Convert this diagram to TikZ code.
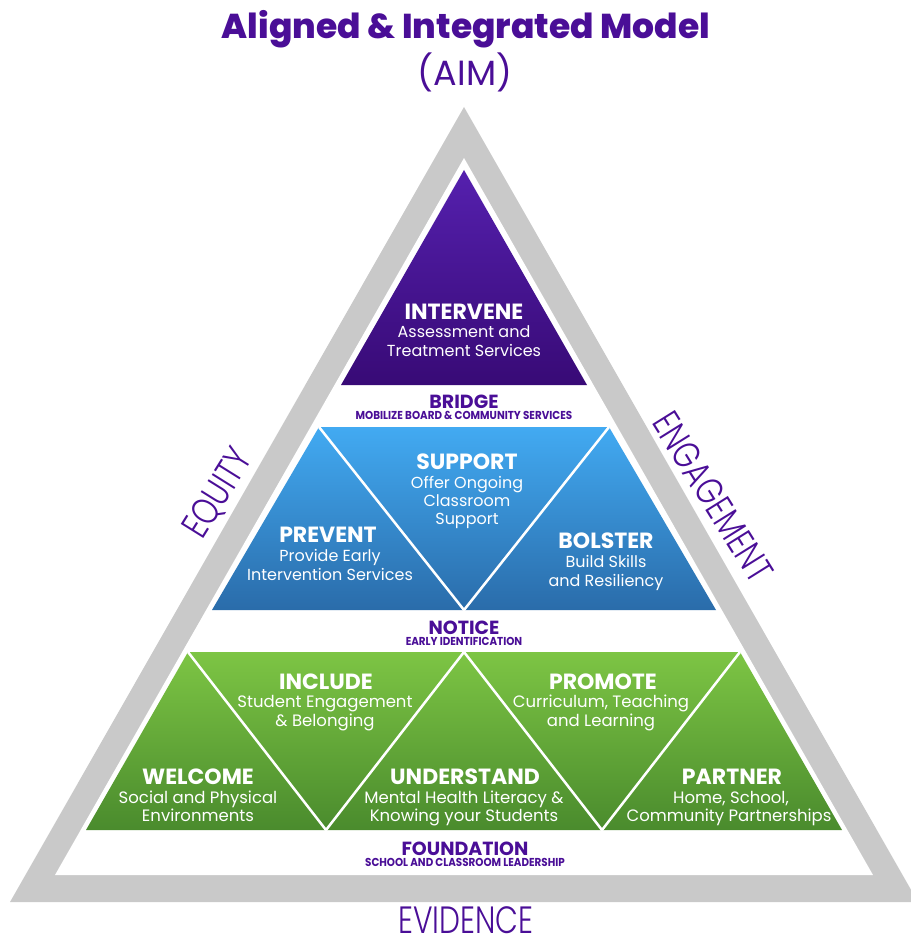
\documentclass[tikz,border=0pt]{standalone}
\usepackage{fontspec}
\setmainfont{Poppins}
\newfontfamily\condfont{Poppins}[FakeStretch=0.9]
\newfontfamily\lightfont{Poppins Light}[FakeStretch=0.78]
\newfontfamily\titlefont{Poppins ExtraBold}
\definecolor{aimpurple}{HTML}{4A0E97}
\definecolor{framegray}{HTML}{C9C9C9}
\definecolor{purtop}{HTML}{5520AE}
\definecolor{purbot}{HTML}{380A76}
\definecolor{bluetop}{HTML}{42AAF2}
\definecolor{bluebot}{HTML}{2A6CAA}
\definecolor{greentop}{HTML}{7DC544}
\definecolor{greenbot}{HTML}{4A8B2D}
\tikzset{
  lab/.style={anchor=base, text=white, inner sep=0pt, font=\bfseries\fontsize{22}{26}\selectfont},
  sub/.style={anchor=base, text=white, inner sep=0pt, font=\fontsize{16}{19}\selectfont},
  glab/.style={anchor=base, text=white, inner sep=0pt, font=\bfseries\fontsize{22}{26}\selectfont},
  gsub/.style={anchor=base, text=white, inner sep=0pt, font=\fontsize{16.5}{19}\selectfont},
  plab/.style={anchor=base, text=aimpurple, inner sep=0pt, font=\bfseries\fontsize{19}{22}\selectfont},
  psub/.style={anchor=base, text=aimpurple, inner sep=0pt, font=\condfont\bfseries\fontsize{11.5}{13}\selectfont},
  side/.style={text=aimpurple, inner sep=0pt, font=\lightfont\fontsize{38}{42}\selectfont},
  sep/.style={white, line width=2.5pt, line join=miter}
}
\begin{document}
\begin{tikzpicture}[x=1pt, y=-1pt]
\useasboundingbox (0,0) rectangle (910,941);
% frame
\fill[framegray] (464,107) -- (918,902) -- (10,902) -- cycle;
\fill[white] (464,158) -- (873,875) -- (55,875) -- cycle;
% top triangle
\shade[top color=purtop, bottom color=purbot] (464,170) -- (587,385) -- (341,385) -- cycle;
% blue band
\shade[top color=bluetop, bottom color=bluebot] (319,427) -- (609,427) -- (716,610) -- (212,610) -- cycle;
\draw[sep] (319,427) -- (464,610) -- (609,427);
% green band
\shade[top color=greentop, bottom color=greenbot] (188,652) -- (740,652) -- (842,830) -- (86,830) -- cycle;
\draw[sep] (188,652) -- (326,830) -- (464,652) -- (602,830) -- (740,652);
% title
\node[anchor=base, text=aimpurple, inner sep=0pt, font=\titlefont\fontsize{34.5}{39}\selectfont] (title) at (466,39) {Aligned \& Integrated Model};
\node[anchor=base, text=aimpurple, inner sep=0pt, font=\fontsize{35}{40}\selectfont] (aim) at (465,86) {(AIM)};
% intervene
\node[lab] (intervene) at (464,319) {INTERVENE};
\node[sub] (intervene1) at (464,337) {Assessment and};
\node[sub] (intervene2) at (464,356) {Treatment Services};
% bridge
\node[plab] (bridge) at (464,408) {BRIDGE};
\node[psub] (bridge1) at (464,419) {MOBILIZE BOARD \& COMMUNITY SERVICES};
% support
\node[lab] (support) at (467,469) {SUPPORT};
\node[sub] (support1) at (467,488) {Offer Ongoing};
\node[sub] (support2) at (467,506) {Classroom};
\node[sub] (support3) at (467,524) {Support};
% prevent
\node[lab] (prevent) at (328,542) {PREVENT};
\node[sub] (prevent1) at (330,561) {Provide Early};
\node[sub] (prevent2) at (330,580) {Intervention Services};
% bolster
\node[lab] (bolster) at (606,548) {BOLSTER};
\node[sub] (bolster1) at (606,567) {Build Skills};
\node[sub] (bolster2) at (606,586) {and Resiliency};
% notice
\node[plab] (notice) at (464,634) {NOTICE};
\node[psub] (notice1) at (464,645) {EARLY IDENTIFICATION};
% include
\node[glab] (include) at (326,689) {INCLUDE};
\node[gsub] (include1) at (325,707) {Student Engagement};
\node[gsub] (include2) at (325,726) {\& Belonging};
% promote
\node[glab] (promote) at (603,689) {PROMOTE};
\node[gsub] (promote1) at (601,707) {Curriculum, Teaching};
\node[gsub] (promote2) at (601,726) {and Learning};
% welcome
\node[glab] (welcome) at (198,784) {WELCOME};
\node[gsub] (welcome1) at (198,803) {Social and Physical};
\node[gsub] (welcome2) at (198,821) {Environments};
% understand
\node[glab] (understand) at (465,784) {UNDERSTAND};
\node[gsub] (understand1) at (464,803) {Mental Health Literacy \&};
\node[gsub] (understand2) at (464,821) {Knowing your Students};
% partner
\node[glab] (partner) at (732,784) {PARTNER};
\node[gsub] (partner1) at (731,803) {Home, School,};
\node[gsub] (partner2) at (729,821) {Community Partnerships};
% foundation
\node[plab] (foundation) at (465,855) {FOUNDATION};
\node[psub] (foundation1) at (465,866) {SCHOOL AND CLASSROOM LEADERSHIP};
% sides
\node[side, rotate=58] (equity) at (219,494) {EQUITY};
\node[side, rotate=-58] (engagement) at (713,497) {ENGAGEMENT};
\node[side, anchor=base] (evidence) at (466,933) {EVIDENCE};
\end{tikzpicture}
\end{document}
